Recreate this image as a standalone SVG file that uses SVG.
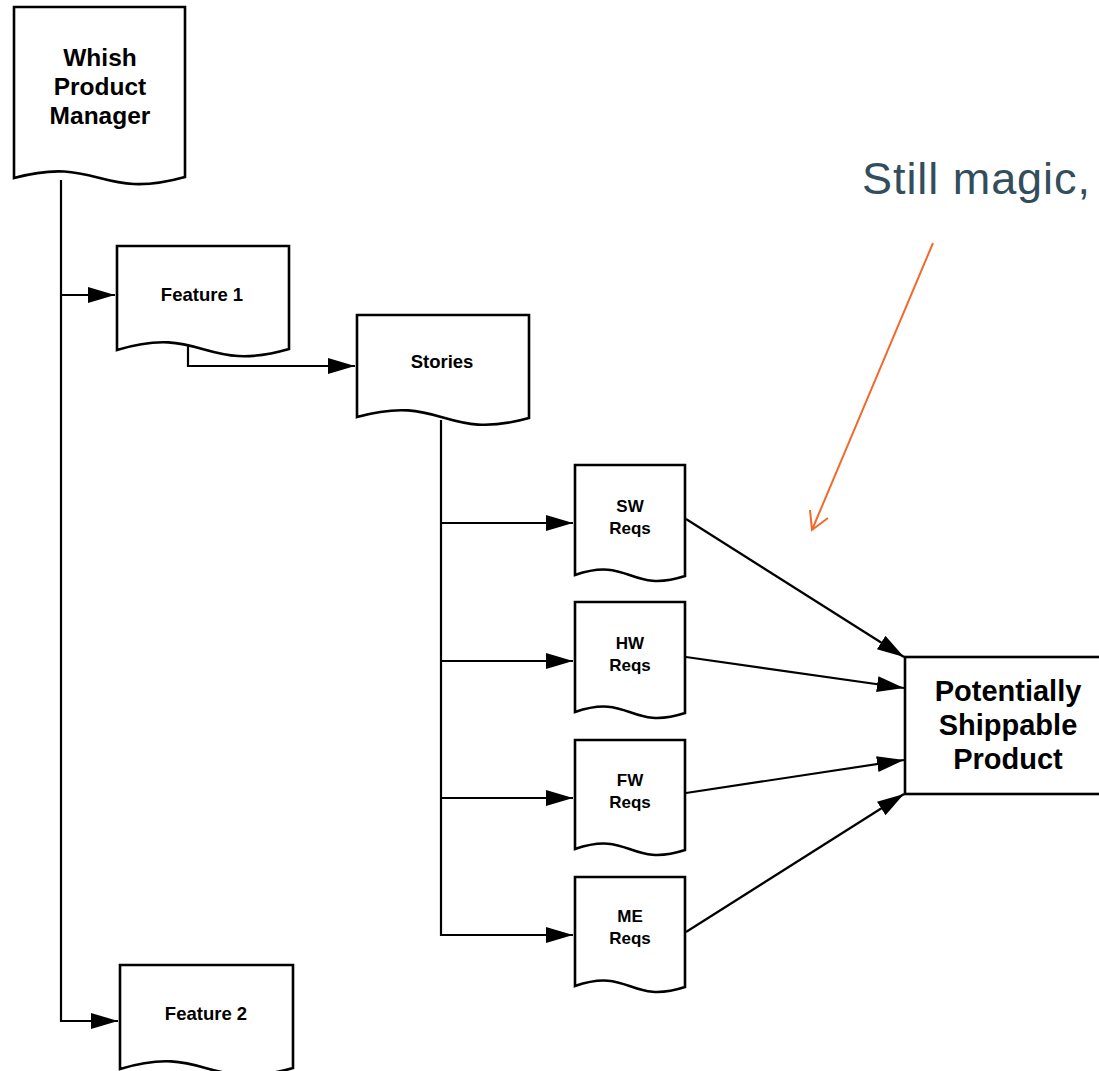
<svg xmlns="http://www.w3.org/2000/svg" width="1099" height="1071" viewBox="0 0 1099 1071">
<style>
.doc{fill:#fff;stroke:#000;stroke-width:2.6;stroke-linejoin:miter}
.t{font-family:"Liberation Sans",Arial,sans-serif;font-weight:bold;fill:#000;text-anchor:middle}
.big{font-size:24.5px}
.mid{font-size:18.5px}
.sm{font-size:17px}
.pp{font-size:29px}
.ln{fill:none;stroke:#000;stroke-width:2.2}
</style>
<defs>
<marker id="ah" markerUnits="userSpaceOnUse" markerWidth="28" markerHeight="18" refX="27" refY="8" orient="auto" viewBox="0 0 28 18">
<path d="M0,0 L27,8 L0,16 Z" fill="#000"/>
</marker>
</defs>
<rect width="1099" height="1071" fill="#fff"/>
<g id="connectors">
<path class="ln" d="M61,180 V1021 H118" marker-end="url(#ah)"/>
<path class="ln" d="M61,295 H115" marker-end="url(#ah)"/>
<path class="ln" d="M188,346 V366 H355" marker-end="url(#ah)"/>
<path class="ln" d="M441,420 V935 H573" marker-end="url(#ah)"/>
<path class="ln" d="M441,523 H573" marker-end="url(#ah)"/>
<path class="ln" d="M441,661 H573" marker-end="url(#ah)"/>
<path class="ln" d="M441,798 H573" marker-end="url(#ah)"/>
<path class="ln" d="M686,519 L904,657" marker-end="url(#ah)"/>
<path class="ln" d="M686,657 L904,688" marker-end="url(#ah)"/>
<path class="ln" d="M686,793 L904,760" marker-end="url(#ah)"/>
<path class="ln" d="M686,932 L904,794" marker-end="url(#ah)"/>
<path d="M933,243 L812,530 M810,510 L812,530 L828,518" fill="none" stroke="#f26a2a" stroke-width="2"/>
</g>
<g id="whish">
<path class="doc" d="M14,7 H185 V177 C99,201 99,155 14,178 Z"/>
<text class="t big" x="100" y="66">Whish</text>
<text class="t big" x="100" y="95">Product</text>
<text class="t big" x="100" y="124">Manager</text>
</g>
<g id="feature1">
<path class="doc" d="M117,246 H289 V349 C203,374 203,324 117,350 Z"/>
<text class="t mid" x="202" y="301">Feature 1</text>
</g>
<g id="stories">
<path class="doc" d="M357,315 H529 V418 C443,442 443,393 357,417 Z"/>
<text class="t mid" x="442" y="368">Stories</text>
</g>
<g id="sw">
<path class="doc" d="M575,465 H685 V576 C630,594 630,556 575,575 Z"/>
<text class="t sm" x="630" y="512">SW</text>
<text class="t sm" x="630" y="534">Reqs</text>
</g>
<g id="hw">
<path class="doc" d="M575,602 H685 V713 C630,731 630,693 575,712 Z"/>
<text class="t sm" x="630" y="649">HW</text>
<text class="t sm" x="630" y="671">Reqs</text>
</g>
<g id="fw">
<path class="doc" d="M575,740 H685 V850 C630,868 630,830 575,849 Z"/>
<text class="t sm" x="630" y="786">FW</text>
<text class="t sm" x="630" y="808">Reqs</text>
</g>
<g id="me">
<path class="doc" d="M575,877 H685 V987 C630,1005 630,967 575,986 Z"/>
<text class="t sm" x="630" y="922">ME</text>
<text class="t sm" x="630" y="944">Reqs</text>
</g>
<g id="feature2">
<path class="doc" d="M120,965 H293 V1068 C206,1093 206,1043 120,1069 Z"/>
<text class="t mid" x="206" y="1020">Feature 2</text>
</g>
<g id="product">
<rect x="905" y="657" width="210" height="137" fill="#fff" stroke="#000" stroke-width="2.6"/>
<text class="t pp" x="1008" y="701">Potentially</text>
<text class="t pp" x="1008" y="735">Shippable</text>
<text class="t pp" x="1008" y="769">Product</text>
</g>
<g id="note">
<text x="862" y="194" font-family="Liberation Sans,Arial,sans-serif" font-size="45" fill="#324d5c" textLength="228" lengthAdjust="spacing">Still magic,</text>
</g>
</svg>
